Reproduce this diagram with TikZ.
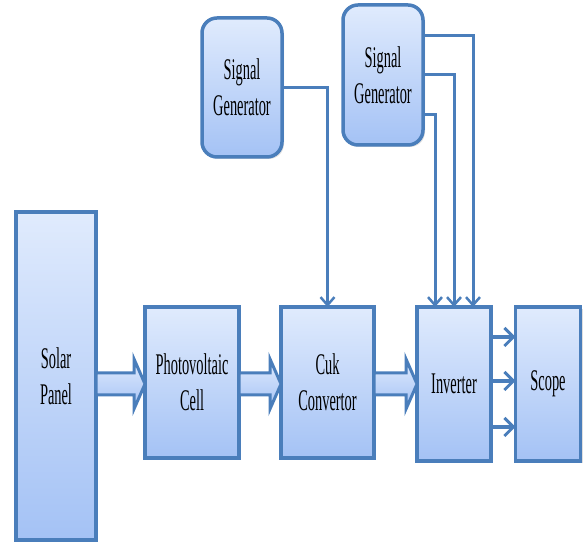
\documentclass[tikz,border=0pt]{standalone}
\usepackage{fontspec}
\setmainfont[FakeStretch=0.48]{Liberation Serif}
\usetikzlibrary{arrows.meta,shadows,calc}
\definecolor{bord}{RGB}{74,126,187}
\definecolor{ftop}{RGB}{224,235,253}
\definecolor{fbot}{RGB}{164,194,245}
\tikzset{
  blk/.style={draw=bord,line width=3.5pt,top color=ftop,bottom color=fbot,
    inner sep=0pt,outer sep=0pt,align=center,
    font=\fontsize{30}{36}\selectfont,
    drop shadow={opacity=0.25,shadow xshift=2pt,shadow yshift=-2pt}},
  gen/.style={blk,rounded corners=15pt},
  sig/.style={draw=bord,line width=3pt,-{Straight Barb[length=8pt,width=14pt,line width=2.5pt]}},
  outarr/.style={draw=bord,line width=4.5pt,-{Straight Barb[length=9pt,width=18pt,line width=3pt]}},
  fat/.style={draw=bord,line width=3pt,top color=ftop,bottom color=fbot,line join=miter}
}
\newcommand\fatarr[3]{%
  \path let \p1=(#1.east), \p2=(#2.west) in
    [fat] (\x1,#3+11) -- (\x2-11,#3+11) -- (\x2-11,#3+25) -- (\x2,#3)
      -- (\x2-11,#3-25) -- (\x2-11,#3-11) -- (\x1,#3-11) -- cycle;}
\begin{document}
\begin{tikzpicture}[x=1pt,y=1pt]
\useasboundingbox (0,0) rectangle (584,548);
\node[blk,minimum width=80pt,minimum height=328pt] (solar) at (56,172) {Solar\\Panel};
\node[blk,minimum width=94pt,minimum height=151pt] (pv) at (192,165.5) {Photovoltaic\\Cell};
\node[blk,minimum width=93pt,minimum height=151pt] (cuk) at (327.5,165.5) {Cuk\\Convertor};
\node[blk,minimum width=74pt,minimum height=154pt] (inv) at (454,164) {Inverter};
\node[blk,minimum width=65pt,minimum height=154pt] (scope) at (548,164) {Scope};
\node[gen,minimum width=80pt,minimum height=139pt] (sg1) at (242,460.5) {Signal\\Generator};
\node[gen,minimum width=80pt,minimum height=140pt] (sg2) at (383,473) {Signal\\Generator};
\fatarr{solar}{pv}{164}
\fatarr{pv}{cuk}{164}
\fatarr{cuk}{inv}{164}
\draw[sig] (sg1.east) -| (cuk.north);
\draw[sig] ([yshift=39pt]sg2.east) -| ([xshift=19pt]inv.north);
\draw[sig] (sg2.east) -| (inv.north);
\draw[sig] ([yshift=-40pt]sg2.east) -| ([xshift=-19pt]inv.north);
\draw[outarr] ([yshift=47pt]inv.east) -- ([yshift=47pt]scope.west);
\draw[outarr] ([yshift=3pt]inv.east) -- ([yshift=3pt]scope.west);
\draw[outarr] ([yshift=-43pt]inv.east) -- ([yshift=-43pt]scope.west);
\end{tikzpicture}
\end{document}
